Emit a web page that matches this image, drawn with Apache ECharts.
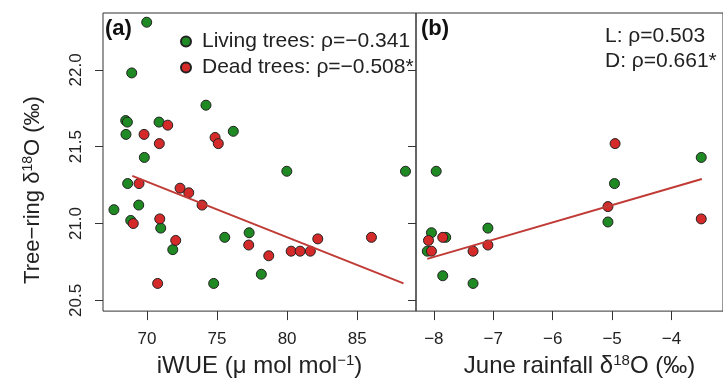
<!DOCTYPE html>
<html>
<head>
<meta charset="utf-8">
<script src="https://cdn.jsdelivr.net/npm/echarts@6/dist/echarts.min.js"></script>
<style>
  html, body { margin: 0; padding: 0; background: #fff; }
  #chart { width: 723px; height: 383px; }
</style>
</head>
<body>
<div id="chart"></div>
<script>
// panel (a): tree-ring d18O vs iWUE
const livingA = [
  [69.98, 22.31], [68.91, 21.98], [74.21, 21.77], [68.48, 21.67], [68.6, 21.66],
  [70.86, 21.66], [68.5, 21.58], [76.16, 21.6], [69.81, 21.43], [79.98, 21.34],
  [88.45, 21.34], [68.62, 21.26], [69.41, 21.12], [67.64, 21.09], [68.84, 21.02],
  [70.98, 20.97], [75.55, 20.91], [77.29, 20.94], [71.84, 20.83], [78.16, 20.67],
  [74.76, 20.61]
];
const deadA = [
  [71.48, 21.64], [69.79, 21.58], [70.88, 21.52], [74.86, 21.56], [75.09, 21.52],
  [69.43, 21.26], [72.36, 21.23], [72.98, 21.2], [73.93, 21.12], [70.91, 21.03],
  [69.02, 21.0], [72.05, 20.89], [77.26, 20.86], [78.69, 20.79], [82.19, 20.9],
  [80.29, 20.82], [80.93, 20.82], [81.66, 20.82], [86.02, 20.91], [70.76, 20.61]
];
const fitA = [[68.95, 21.31], [88.31, 20.61]];

// panel (b): tree-ring d18O vs June rainfall d18O
const livingB = [
  [-3.5, 21.43], [-7.96, 21.34], [-4.96, 21.26], [-8.04, 20.94], [-7.09, 20.97],
  [-7.8, 20.91], [-8.11, 20.82], [-5.07, 21.01], [-7.85, 20.66], [-7.34, 20.61]
];
const deadB = [
  [-4.95, 21.52], [-5.07, 21.11], [-3.5, 21.03], [-8.09, 20.89], [-7.85, 20.91],
  [-8.04, 20.82], [-7.34, 20.82], [-7.09, 20.86]
];
const fitB = [[-8.11, 20.77], [-3.49, 21.29]];

const iwueTicks = [70, 75, 80, 85];
const rainTicks = [-8, -7, -6, -5, -4];
const d18oTicks = [20.5, 21.0, 21.5, 22.0];

const livingName = "Living trees: ρ=−0.341";
const deadName = "Dead trees: ρ=−0.508*";

const FONT = "Liberation Sans, Arial, sans-serif";
const GREEN = "#1f8a24";
const RED = "#d42a2a";
const FIT = "#c03a36";
const INK = "#333";

const chart = echarts.init(document.getElementById("chart"));

const dotStyle = (color) => ({
  color: color,
  borderColor: "#222",
  borderWidth: 1,
  opacity: 1,
});

const xAxisBase = (gridIndex, min, max, ticks, name, shift) => ({
  type: "value",
  gridIndex: gridIndex,
  min: min,
  max: max,
  axisLine: { show: false },
  axisTick: {
    show: true,
    length: 9,
    customValues: ticks,
    lineStyle: { color: INK, width: 1 },
  },
  axisLabel: {
    customValues: ticks,
    margin: 20,
    fontSize: 17,
    fontFamily: FONT,
    color: "#222",
    formatter: (v) => String(v).replace("-", "−"),
  },
  splitLine: { show: false },
  name: name,
  nameLocation: "middle",
  nameGap: 36,
  nameTextStyle: {
    fontSize: 24,
    fontFamily: FONT,
    color: "#222",
    padding: [0, 0, 0, shift],
    rich: {
      t: { fontSize: 24, fontFamily: FONT, color: "#222", lineHeight: 26 },
      s: { fontSize: 15, fontFamily: FONT, color: "#222", lineHeight: 26, verticalAlign: "top", padding: [0, 0, 9, 0] },
    },
  },
});

const yAxisBase = (gridIndex, showLabels) => ({
  type: "value",
  gridIndex: gridIndex,
  min: 20.43,
  max: 22.37,
  axisLine: { show: false },
  axisTick: {
    show: true,
    length: 8,
    customValues: d18oTicks,
    lineStyle: { color: INK, width: 1 },
  },
  axisLabel: {
    show: showLabels,
    customValues: d18oTicks,
    rotate: 90,
    margin: 18,
    fontSize: 17,
    fontFamily: FONT,
    color: "#222",
    formatter: (v) => v.toFixed(1),
  },
  splitLine: { show: false },
});

const option = {
  animation: false,
  backgroundColor: "#fff",
  grid: [
    { left: 103, top: 13, width: 313, height: 300, show: true, borderColor: INK, borderWidth: 1, backgroundColor: "transparent" },
    { left: 416, top: 13, width: 327, height: 300, show: true, borderColor: INK, borderWidth: 1, backgroundColor: "transparent" },
  ],
  xAxis: [
    xAxisBase(0, 66.86, 89.2, iwueTicks, "{t|iWUE (μ mol mol}{s|−1}{t|)}", 0),
    xAxisBase(1, -8.3, -3.134, rainTicks, "{t|June rainfall δ}{s|18}{t|O (‰)}", 20),
  ],
  yAxis: [yAxisBase(0, true), yAxisBase(1, false)],
  legend: {
    data: [livingName, deadName],
    orient: "vertical",
    left: 175,
    top: 26,
    itemGap: 5,
    itemWidth: 10,
    itemHeight: 10,
    icon: "circle",
    selectedMode: false,
    textStyle: {
      fontSize: 21,
      fontFamily: FONT,
      color: "#222",
      lineHeight: 20,
      padding: [0, 0, 0, 6],
    },
  },
  graphic: [
    {
      type: "text",
      x: 33,
      y: 190,
      rotation: Math.PI / 2,
      style: {
        text: "{t|Tree−ring δ}{s|18}{t|O (‰)}",
        align: "center",
        verticalAlign: "middle",
        rich: {
          t: { fontSize: 22, fontFamily: FONT, fill: "#222", lineHeight: 24 },
          s: { fontSize: 14, fontFamily: FONT, fill: "#222", lineHeight: 24, verticalAlign: "top", padding: [0, 0, 9, 0] },
        },
      },
    },
    {
      type: "text",
      x: 105,
      y: 29,
      style: { text: "(a)", fontSize: 22, fontWeight: "bold", fontFamily: FONT, fill: "#111", verticalAlign: "middle" },
    },
    {
      type: "text",
      x: 421,
      y: 29,
      style: { text: "(b)", fontSize: 22, fontWeight: "bold", fontFamily: FONT, fill: "#111", verticalAlign: "middle" },
    },
    {
      type: "text",
      x: 605,
      y: 36,
      style: { text: "L: ρ=0.503", fontSize: 21, fontFamily: FONT, fill: "#222", verticalAlign: "middle" },
    },
    {
      type: "text",
      x: 605,
      y: 61,
      style: { text: "D: ρ=0.661*", fontSize: 21, fontFamily: FONT, fill: "#222", verticalAlign: "middle" },
    },
  ],
  series: [
    { name: livingName, type: "scatter", xAxisIndex: 0, yAxisIndex: 0, symbolSize: 10, itemStyle: dotStyle(GREEN), data: livingA },
    { name: deadName, type: "scatter", xAxisIndex: 0, yAxisIndex: 0, symbolSize: 10, itemStyle: dotStyle(RED), data: deadA },
    { name: "fitA", type: "line", xAxisIndex: 0, yAxisIndex: 0, showSymbol: false, symbol: "none", lineStyle: { color: FIT, width: 2 }, data: fitA },
    { name: livingName, type: "scatter", xAxisIndex: 1, yAxisIndex: 1, symbolSize: 10, itemStyle: dotStyle(GREEN), data: livingB },
    { name: deadName, type: "scatter", xAxisIndex: 1, yAxisIndex: 1, symbolSize: 10, itemStyle: dotStyle(RED), data: deadB },
    { name: "fitB", type: "line", xAxisIndex: 1, yAxisIndex: 1, showSymbol: false, symbol: "none", lineStyle: { color: FIT, width: 2 }, data: fitB },
  ],
};

chart.setOption(option);
</script>
</body>
</html>
